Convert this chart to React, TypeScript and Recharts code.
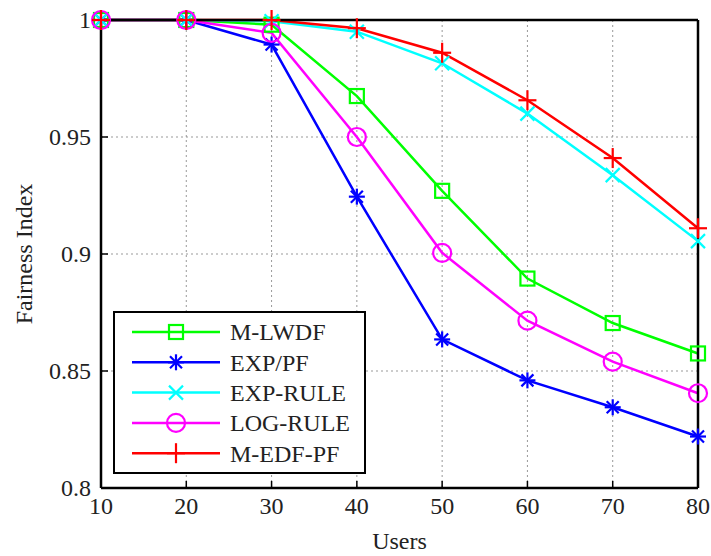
import React from "react";
import {
    LineChart,
    Line,
    XAxis,
    YAxis,
    CartesianGrid,
    Legend,
    Label,
} from "recharts";

const users = [10, 20, 30, 40, 50, 60, 70, 80];
const mlwdf = [1, 1, 0.998, 0.9675, 0.927, 0.8895, 0.8705, 0.8575];
const expPf = [1, 1, 0.9895, 0.9245, 0.8635, 0.846, 0.8345, 0.822];
const expRule = [1, 1, 0.9995, 0.995, 0.9815, 0.96, 0.9337, 0.9055];
const logRule = [1, 1, 0.9945, 0.95, 0.9005, 0.8715, 0.854, 0.8405];
const medfPf = [1, 1, 1, 0.9965, 0.986, 0.9657, 0.941, 0.911];

const xTicks = [10, 20, 30, 40, 50, 60, 70, 80];
const yTicks = [0.8, 0.85, 0.9, 0.95, 1];

const series = [
    { key: "mlwdf", name: "M-LWDF", color: "#00ff00", shape: "square" },
    { key: "expPf", name: "EXP/PF", color: "#0000ff", shape: "star" },
    { key: "expRule", name: "EXP-RULE", color: "#00ffff", shape: "x" },
    { key: "logRule", name: "LOG-RULE", color: "#ff00ff", shape: "circle" },
    { key: "medfPf", name: "M-EDF-PF", color: "#ff0000", shape: "plus" },
];

const data = users.map((u, i) => ({
    users: u,
    mlwdf: mlwdf[i],
    expPf: expPf[i],
    expRule: expRule[i],
    logRule: logRule[i],
    medfPf: medfPf[i],
}));

const FONT = '"Liberation Serif", "Times New Roman", serif';

function Marker({ shape, cx, cy, color }: { shape: string; cx: number; cy: number; color: string }) {
    const sw = 2.2;
    if (shape === "square")
        return <rect x={cx - 7} y={cy - 7} width={14} height={14} fill="none" stroke={color} strokeWidth={sw} />;
    if (shape === "circle")
        return <circle cx={cx} cy={cy} r={9} fill="none" stroke={color} strokeWidth={sw} />;
    if (shape === "x")
        return (
            <g stroke={color} strokeWidth={sw}>
                <line x1={cx - 7} y1={cy - 7} x2={cx + 7} y2={cy + 7} />
                <line x1={cx - 7} y1={cy + 7} x2={cx + 7} y2={cy - 7} />
            </g>
        );
    if (shape === "plus")
        return (
            <g stroke={color} strokeWidth={sw}>
                <line x1={cx - 9} y1={cy} x2={cx + 9} y2={cy} />
                <line x1={cx} y1={cy - 10} x2={cx} y2={cy + 10} />
            </g>
        );
    // star
    return (
        <g stroke={color} strokeWidth={sw}>
            <line x1={cx - 8} y1={cy} x2={cx + 8} y2={cy} />
            <line x1={cx} y1={cy - 8} x2={cx} y2={cy + 8} />
            <line x1={cx - 6} y1={cy - 6} x2={cx + 6} y2={cy + 6} />
            <line x1={cx - 6} y1={cy + 6} x2={cx + 6} y2={cy - 6} />
        </g>
    );
}

function XTick({ x, y, payload }: any) {
    return (
        <text x={x} y={y} dy="0.71em" textAnchor="middle" fontFamily={FONT} fontSize={24} fill="#222">
            {payload.value}
        </text>
    );
}

function YTick({ x, y, payload }: any) {
    return (
        <text x={x} y={y} dy="0.35em" textAnchor="end" fontFamily={FONT} fontSize={24} fill="#222">
            {payload.value}
        </text>
    );
}

function LegendBox() {
    return (
        <div
            style={{
                width: 253,
                height: 163,
                border: "2.5px solid #000",
                boxSizing: "border-box",
                background: "#fff",
            }}
        >
            <svg width={249} height={159}>
                {series.map((s, i) => {
                    const y = 19 + i * 30.3;
                    return (
                        <g key={s.key}>
                            <line x1={17} x2={105} y1={y} y2={y} stroke={s.color} strokeWidth={2.5} />
                            <Marker shape={s.shape} cx={61} cy={y} color={s.color} />
                            <text x={115} y={y} dy="0.35em" fontFamily={FONT} fontSize={24} fill="#222">
                                {s.name}
                            </text>
                        </g>
                    );
                })}
            </svg>
        </div>
    );
}

export default function App() {
    const axisLine = { stroke: "#000", strokeWidth: 2.5 };
    const tickLine = { stroke: "#000", strokeWidth: 1.5 };
    return (
        <div style={{ position: "absolute", left: 0, top: 0, background: "#fff", fontFamily: FONT }}>
            <LineChart width={711} height={556} data={data} margin={{ top: 0, right: 0, left: 0, bottom: 0 }}>
                <CartesianGrid stroke="#999" strokeDasharray="2 3" strokeWidth={1} />
                <XAxis
                    dataKey="users"
                    type="number"
                    domain={[10, 80]}
                    ticks={xTicks}
                    height={68}
                    tickSize={-7}
                    tickMargin={16}
                    tick={<XTick />}
                    axisLine={axisLine}
                    tickLine={tickLine}
                >
                    <Label
                        content={({ viewBox }: any) => (
                            <text
                                x={viewBox.x + viewBox.width / 2}
                                y={viewBox.y + 53}
                                textAnchor="middle"
                                dominantBaseline="central"
                                fontFamily={FONT}
                                fontSize={24}
                                fill="#222"
                            >
                                Users
                            </text>
                        )}
                    />
                </XAxis>
                <XAxis
                    xAxisId="top"
                    orientation="top"
                    type="number"
                    domain={[10, 80]}
                    ticks={xTicks}
                    height={20}
                    tickSize={-7}
                    tick={false}
                    axisLine={axisLine}
                    tickLine={tickLine}
                />
                <YAxis
                    type="number"
                    domain={[0.8, 1]}
                    ticks={yTicks}
                    width={101}
                    tickSize={-7}
                    tickMargin={17}
                    tick={<YTick />}
                    axisLine={axisLine}
                    tickLine={tickLine}
                >
                    <Label
                        content={({ viewBox }: any) => {
                            const x = viewBox.x + 24;
                            const y = viewBox.y + viewBox.height / 2;
                            return (
                                <text
                                    x={x}
                                    y={y}
                                    transform={`rotate(-90 ${x} ${y})`}
                                    textAnchor="middle"
                                    dominantBaseline="central"
                                    fontFamily={FONT}
                                    fontSize={24}
                                    fill="#222"
                                >
                                    Fairness Index
                                </text>
                            );
                        }}
                    />
                </YAxis>
                <YAxis
                    yAxisId="right"
                    orientation="right"
                    type="number"
                    domain={[0.8, 1]}
                    ticks={yTicks}
                    width={13}
                    tickSize={-7}
                    tick={false}
                    axisLine={axisLine}
                    tickLine={tickLine}
                />
                {series.map((s) => (
                    <Line
                        key={s.key}
                        type="linear"
                        dataKey={s.key}
                        name={s.name}
                        stroke={s.color}
                        strokeWidth={2.5}
                        isAnimationActive={false}
                        activeDot={false}
                        dot={(p: any) => (
                            <Marker key={`${s.key}-${p.index}`} shape={s.shape} cx={p.cx} cy={p.cy} color={s.color} />
                        )}
                    />
                ))}
                <Legend
                    layout="vertical"
                    align="center"
                    verticalAlign="middle"
                    wrapperStyle={{ left: 113, top: 311, width: 253, height: 163 }}
                    content={() => <LegendBox />}
                />
            </LineChart>
        </div>
    );
}
